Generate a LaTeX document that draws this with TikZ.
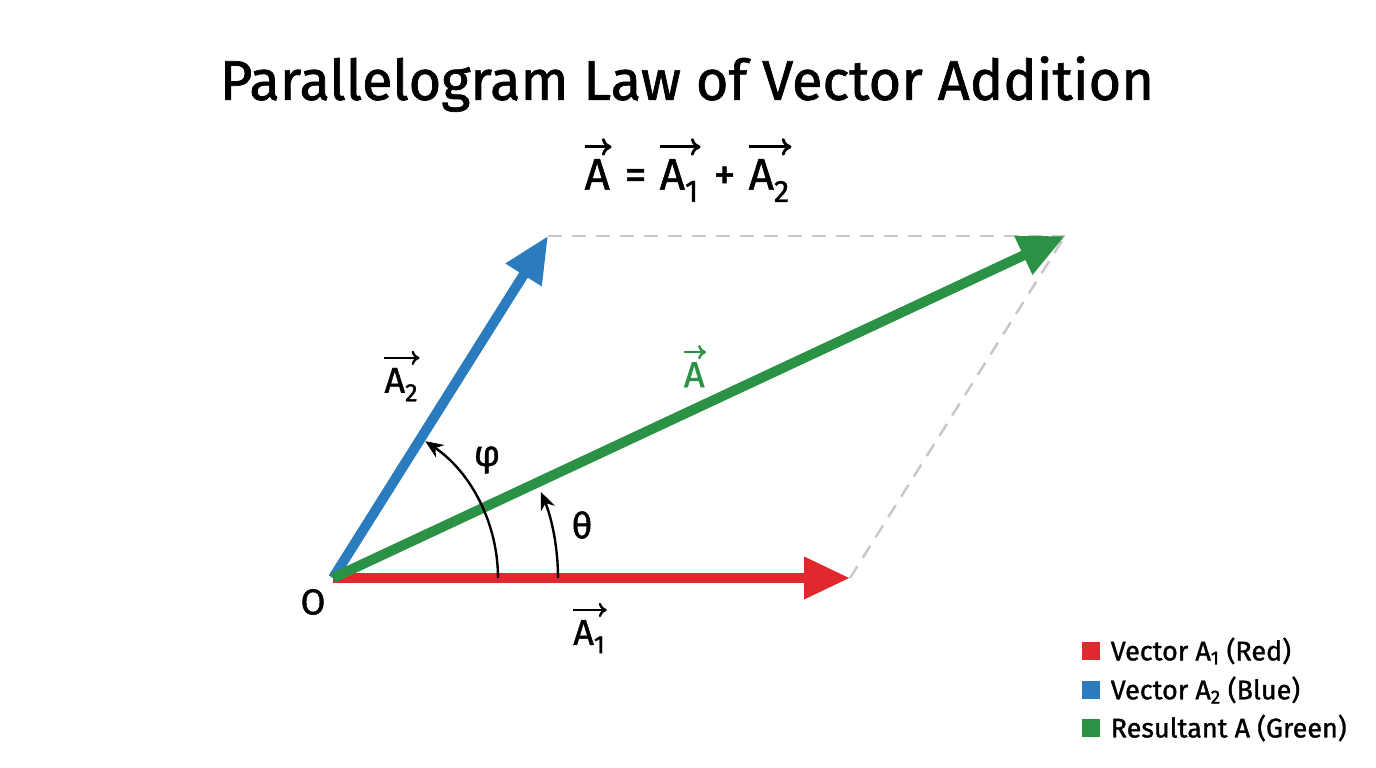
\documentclass[tikz,border=0pt]{standalone}
\usepackage{fontspec}
\setmainfont{Fira Sans}[FakeBold=1.2]
\usetikzlibrary{arrows.meta}
\definecolor{vecred}{HTML}{E0282E}
\definecolor{vecblue}{HTML}{2B7BBF}
\definecolor{vecgreen}{HTML}{2A9145}
\definecolor{guide}{HTML}{C8C8C8}
\begin{document}
\begin{tikzpicture}[x=1pt,y=1pt,
  vector/.style={line width=10pt,-{Triangle[length=46pt,width=40pt]}},
  angarc/.style={line width=2.4pt,-{Stealth[length=18pt,width=15pt]}},
  guideline/.style={guide,line width=2.5pt,dash pattern=on 14pt off 10pt},
  lbl/.style={font=\fontsize{36}{40}\selectfont},
  key/.style={minimum size=18pt,inner sep=0pt},
  keytext/.style={anchor=west,font=\fontsize{27}{30}\selectfont}]
\newcommand{\vecsym}[1]{\tikz[baseline=(v.base)]{\node[inner sep=0pt,outer sep=0pt] (v) {#1};
  \draw[line width=.065em,-{To[length=.22em,width=.4em]}] ([yshift=.28em]v.north west) -- ([yshift=.28em,xshift=.04em]v.north east);}}
\useasboundingbox (0,0) rectangle (1376,768);

% points
\coordinate (O)  at (333,190);
\coordinate (P1) at (850,190);
\coordinate (P2) at (548,532);
\coordinate (R)  at (1065,532);

% parallelogram
\draw[guideline] (P2) -- (R);
\draw[guideline] (P1) -- (R);

% vectors
\draw[vector,vecblue]  (O) -- (P2);
\draw[vector,vecred]   (O) -- (P1);
\draw[vector,vecgreen] (O) -- (R);

% angles
\draw[angarc] ([xshift=165pt]O) arc[start angle=0,end angle=56,radius=165pt];
\draw[angarc] ([xshift=225pt]O) arc[start angle=0,end angle=22.5,radius=225pt];

% labels
\node[lbl] (olbl)  at (313,166) {O};
\node[lbl] (a1lbl) at (590,140) {\vecsym{A\textsubscript{1}}};
\node[lbl] (a2lbl) at (402,392) {\vecsym{A\textsubscript{2}}};
\node[lbl,vecgreen] (albl) at (695,402) {\vecsym{A}};
\node[lbl] (phi)   at (487,308) {φ};
\node[lbl] (theta) at (582,243) {θ};

% title
\node[font=\fontsize{56}{60}\selectfont] (title) at (687,684) {Parallelogram Law of Vector Addition};
\node[font=\fontsize{44}{48}\selectfont] (eq) at (688,598)
  {\vecsym{A} = \vecsym{A\textsubscript{1}} + \vecsym{A\textsubscript{2}}};

% legend
\node[key,fill=vecred]   (k1) at (1091,117) {};
\node[key,fill=vecblue]  (k2) at (1091,78) {};
\node[key,fill=vecgreen] (k3) at (1091,40) {};
\node[keytext] (t1) at ([xshift=7pt]k1.east) {Vector A\textsubscript{1} (Red)};
\node[keytext] (t2) at ([xshift=7pt]k2.east) {Vector A\textsubscript{2} (Blue)};
\node[keytext] (t3) at ([xshift=7pt]k3.east) {Resultant A (Green)};
\end{tikzpicture}
\end{document}
